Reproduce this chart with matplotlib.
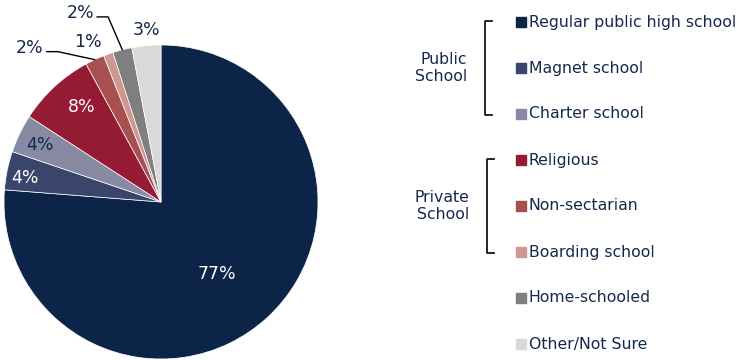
import numpy as np
import matplotlib.pyplot as plt
from matplotlib.patches import Rectangle

plt.rcParams['font.family'] = ['DejaVu Sans']

categories = ['Regular public high school', 'Magnet school', 'Charter school',
              'Religious', 'Non-sectarian', 'Boarding school',
              'Home-schooled', 'Other/Not Sure']
values = [77, 4, 4, 8, 2, 1, 2, 3]
colors = ['#0b2447', '#39456a', '#878aa2', '#951a33', '#a8504f',
          '#d09690', '#7f7f7f', '#d9d9d9']
groups = ['Public\nSchool', 'Private\nSchool']

navy = '#14294d'

fig = plt.figure(figsize=(7.37, 3.6), dpi=100)
ax = fig.add_axes([0, 0, 1, 1])

# pie
cx, cy, R = 161, 158, 157
wedges, _ = ax.pie(values, colors=colors, startangle=90, counterclock=False,
                   center=(cx, cy), radius=R, frame=True,
                   wedgeprops=dict(linewidth=0.5, edgecolor='white'))
ax.set_xlim(0, 737)
ax.set_ylim(0, 360)
ax.set_aspect('equal')
ax.axis('off')

# label placement: (radius factor, angle shift, colour, leader)
lab = [(0.58, -5, 'white', False),
       (0.88, 1.6, 'white', False),
       (0.85, 0.6, navy, False),
       (0.79, -3, 'white', False),
       (1.29, 15.4, navy, True),
       (1.12, 5, navy, False),
       (1.31, 8.9, navy, True),
       (1.10, -0.6, navy, False)]

for w, v, (rf, da, c, lead) in zip(wedges, values, lab):
    mid = np.deg2rad((w.theta1 + w.theta2) / 2)
    a = mid + np.deg2rad(da)
    tx, ty = cx + rf * R * np.cos(a), cy + rf * R * np.sin(a)
    ax.text(tx, ty, f'{v}%', color=c, fontsize=12.5, ha='center', va='center')
    if lead:
        ex, ey = cx + R * np.cos(mid), cy + R * np.sin(mid)
        x0 = tx + 17
        ax.plot([x0, x0 + 11, ex], [ty - 4, ty - 4, ey], color='black', lw=1)

# legend
rows = 360 - np.linspace(22, 344, len(categories))
for y, name, col in zip(rows, categories, colors):
    ax.add_patch(Rectangle((516, y - 5), 10, 10, color=col))
    ax.text(529, y, name, color=navy, fontsize=11.3, va='center', ha='left')

# group brackets
spans = [(0, 2, 485), (3, 5, 487)]
for g, (i0, i1, bx) in zip(groups, spans):
    ytop, ybot = rows[i0] + 1, rows[i1] - 1
    ax.plot([bx + 7, bx, bx, bx + 7], [ytop, ytop, ybot, ybot],
            color='black', lw=1.2)
    ax.text(bx - 18, (ytop + ybot) / 2, g, color=navy, fontsize=11.3,
            ha='right', va='center', multialignment='right')

fig.savefig('out.png', dpi=100)
